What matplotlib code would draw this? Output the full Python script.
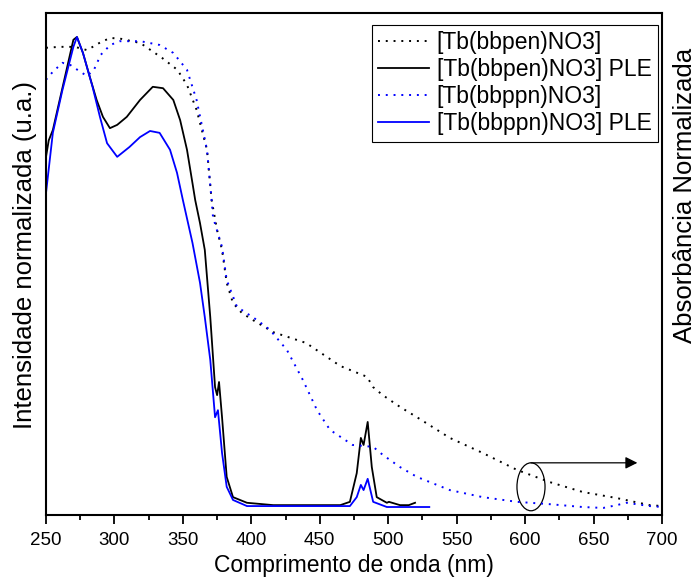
import numpy as np
import matplotlib
matplotlib.use("Agg")
import matplotlib.pyplot as plt
from matplotlib.patches import Ellipse

plt.rcParams['font.family'] = ['Liberation Sans', 'DejaVu Sans']

# absorbance [Tb(bbpen)NO3] (black dotted)
wl_abs_pen = [250, 260, 271, 280, 290, 297, 305, 319, 335, 346, 353, 360, 367.6, 371,
              375, 378.6, 382, 386.6, 393, 401, 416, 440, 465, 484.5, 489, 496, 508.6,
              521, 545, 569, 594, 618, 642, 667, 691, 700]
abs_pen = [0.977, 0.979, 0.979, 0.972, 0.989, 0.998, 0.996, 0.987, 0.955, 0.930, 0.898,
           0.845, 0.760, 0.653, 0.589, 0.547, 0.477, 0.434, 0.413, 0.398, 0.372, 0.349,
           0.300, 0.277, 0.255, 0.238, 0.213, 0.191, 0.147, 0.115, 0.079, 0.053, 0.032,
           0.019, 0.004, 0.002]

# absorbance [Tb(bbppn)NO3] (blue dotted)
wl_abs_ppn = [250, 255, 262, 268, 275, 280, 285, 290, 297, 304, 319, 333, 343, 353, 360,
              367.6, 371, 372, 378.6, 382, 389.5, 404, 413.6, 426, 437.7, 448, 457.5, 474,
              489, 496, 508.6, 521, 545, 569, 594, 618, 642, 657, 667, 674, 691, 700]
abs_ppn = [0.909, 0.926, 0.945, 0.940, 0.926, 0.917, 0.930, 0.962, 0.983, 0.991, 0.991,
           0.983, 0.966, 0.930, 0.866, 0.760, 0.653, 0.617, 0.553, 0.483, 0.426, 0.398,
           0.377, 0.334, 0.270, 0.206, 0.164, 0.132, 0.128, 0.111, 0.085, 0.064, 0.036,
           0.021, 0.011, 0.006, 0.000, -0.002, 0.004, 0.009, 0.002, 0.000]

# excitation [Tb(bbpen)NO3] PLE (black solid)
wl_ple_pen = [250, 252, 255, 260, 265, 270, 272.6, 277, 282, 287, 291.6, 296.7, 302, 309,
              318.7, 328, 335.5, 343, 348, 353, 357, 359, 362.5, 366, 370, 373.5, 375,
              376.4, 378.6, 382, 386.6, 396.8, 416, 465, 472, 477, 480, 482, 485, 488,
              491.6, 499, 500.5, 508.6, 515, 519.6]
ple_pen = [0.745, 0.780, 0.802, 0.866, 0.930, 0.994, 1.000, 0.966, 0.915, 0.866, 0.830,
           0.806, 0.813, 0.830, 0.866, 0.894, 0.891, 0.866, 0.823, 0.760, 0.689, 0.653,
           0.604, 0.547, 0.404, 0.255, 0.238, 0.266, 0.191, 0.064, 0.021, 0.009, 0.004,
           0.004, 0.011, 0.072, 0.147, 0.132, 0.181, 0.085, 0.021, 0.009, 0.011, 0.004,
           0.004, 0.009]

# excitation [Tb(bbppn)NO3] PLE (blue solid)
wl_ple_ppn = [250, 255, 262, 270, 272.6, 277, 284, 289.4, 294.6, 302, 311, 318.7, 326,
              333, 340.6, 345.7, 350, 357, 362.5, 366, 370, 373.5, 375.6, 378.6, 382,
              386.6, 396.8, 472, 477, 480, 482, 485, 489, 499, 530]
ple_ppn = [0.668, 0.796, 0.887, 0.979, 1.000, 0.966, 0.894, 0.830, 0.774, 0.745, 0.766,
           0.787, 0.800, 0.796, 0.760, 0.711, 0.653, 0.562, 0.477, 0.404, 0.313, 0.191,
           0.206, 0.115, 0.043, 0.015, 0.002, 0.002, 0.021, 0.047, 0.036, 0.060, 0.011,
           0.000, 0.000]

W, H = 696, 586
fig = plt.figure(figsize=(W / 100, H / 100), dpi=100)
ax = fig.add_axes([46 / W, 1 - 515 / H, 616 / W, 502 / H])

dot = (0, (1, 3))
ax.plot(wl_abs_pen, abs_pen, color='black', linestyle=dot, lw=1.4, label='[Tb(bbpen)NO3]')
ax.plot(wl_ple_pen, ple_pen, color='black', lw=1.3, label='[Tb(bbpen)NO3] PLE')
ax.plot(wl_abs_ppn, abs_ppn, color='#0000ff', linestyle=dot, lw=1.4, label='[Tb(bbppn)NO3]')
ax.plot(wl_ple_ppn, ple_ppn, color='#0000ff', lw=1.3, label='[Tb(bbppn)NO3] PLE')

ax.set_xlim(250, 700)
ax.set_ylim(-0.017, 1.051)
ax.set_xticks(np.arange(250, 701, 50))
ax.set_xticks(np.arange(275, 700, 50), minor=True)
ax.set_yticks([])
ax.tick_params(axis='x', which='major', direction='out', length=6.5, width=1.3,
               labelsize=13.5, pad=5.5)
ax.tick_params(axis='x', which='minor', direction='out', length=3.6, width=1.3)
for s in ax.spines.values():
    s.set_linewidth(1.5)

ax.set_xlabel('Comprimento de onda (nm)', fontsize=16.5, labelpad=3.5)
fig.text(25 / W, 1 - 255 / H, 'Intensidade normalizada (u.a.)', rotation=90,
         fontsize=18.5, ha='center', va='center')
fig.text(684.5 / W, 1 - 195 / H, 'Absorbância Normalizada', rotation=90,
         fontsize=18.5, ha='center', va='center')

# annotation: ellipse + arrow pointing to the right axis
ax.add_patch(Ellipse((604.3, 0.043), 20.5, 0.102, fill=False, edgecolor='black', lw=0.9))
ax.annotate('', xy=(682, 0.094), xytext=(604.3, 0.094),
            arrowprops=dict(arrowstyle='-|>', color='black', lw=0.9,
                            mutation_scale=18, shrinkA=0, shrinkB=0))

leg = ax.legend(loc='upper right', bbox_to_anchor=(658 / W, 1 - 25 / H),
                bbox_transform=fig.transFigure, fontsize=16.5, frameon=True,
                fancybox=False, edgecolor='black', framealpha=1, handlelength=2.2,
                handletextpad=0.35, labelspacing=0.17, borderpad=0.28, borderaxespad=0)
leg.get_frame().set_linewidth(0.8)

fig.savefig('out.png', dpi=100)
